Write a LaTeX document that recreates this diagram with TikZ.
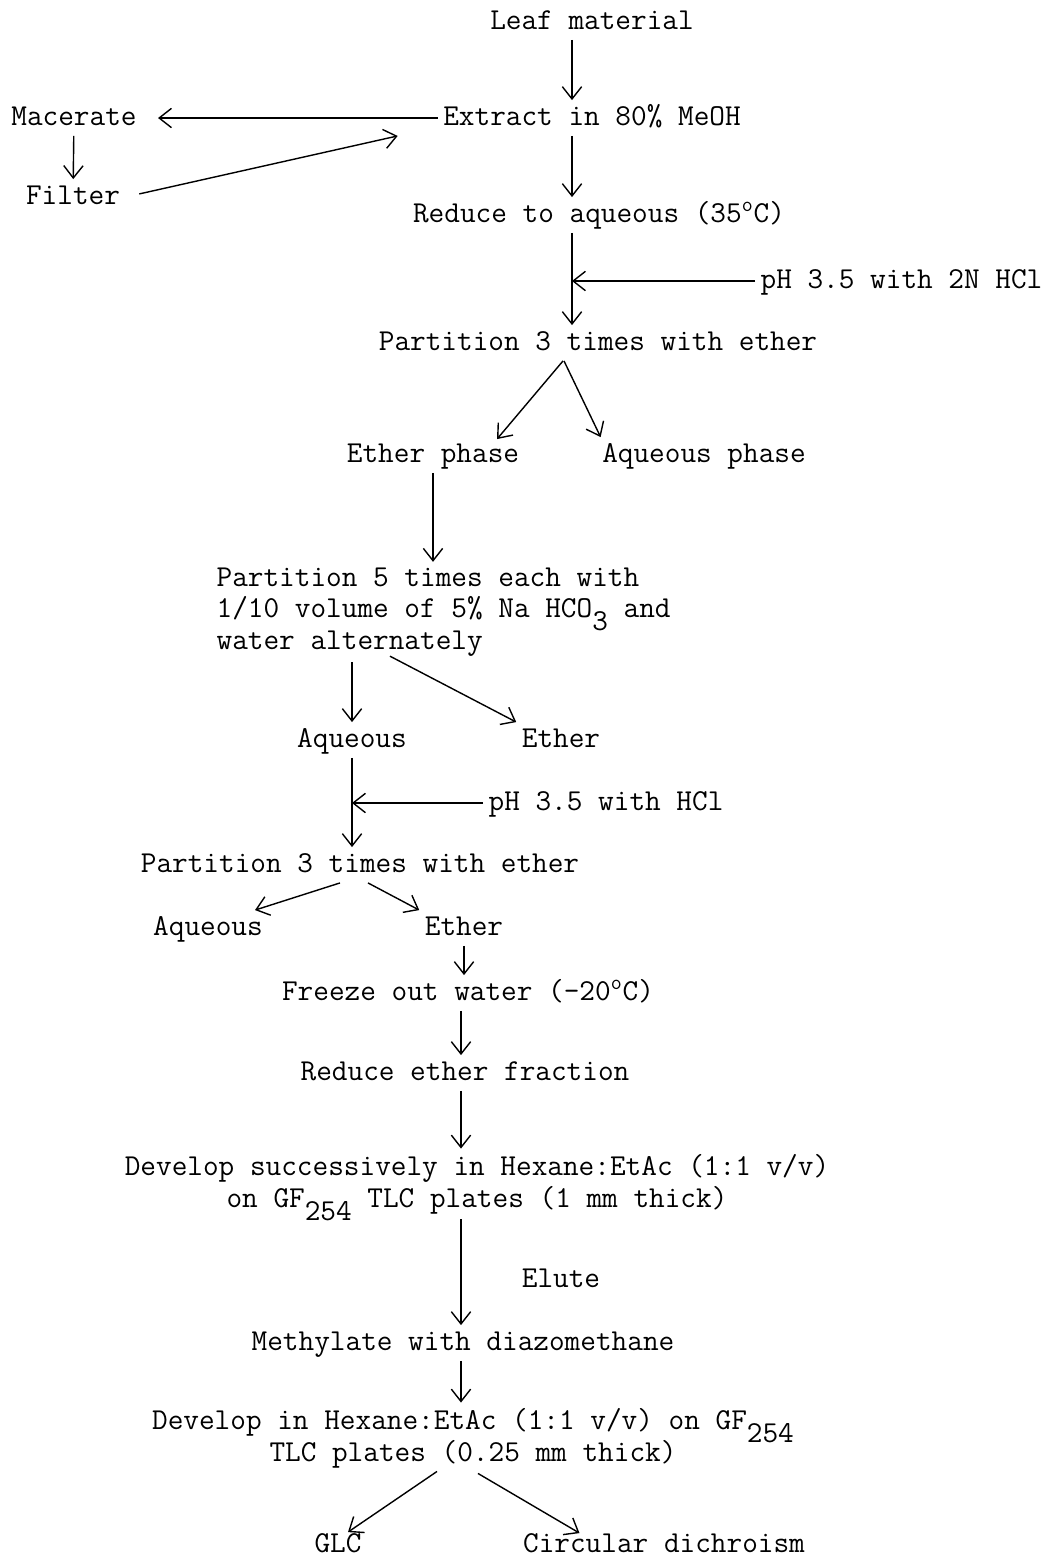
\documentclass[tikz,border=0pt]{standalone}
\usepackage{tikz}
\usetikzlibrary{arrows.meta, calc}

\newcommand{\flowfont}{\fontsize{17.3}{18.1}\selectfont\ttfamily}
\newcommand{\lowsub}[1]{\smash{\raisebox{-1ex}{#1}}}

\begin{document}
\begin{tikzpicture}[
	x=0.02cm, y=-0.02cm, % one unit = one pixel of the page, y running down
	>={Straight Barb[length=7pt,width=11pt]},
	% Style for the one-line steps
	stage/.style={
		font=\flowfont,
		inner sep=3pt,
		text height=11pt,
		text depth=3pt
	},
	% Style for the steps typed on several lines
	block/.style={
		font=\flowfont,
		inner sep=3pt
	},
	% Style for the arrows
	flow/.style={
		->,
		line width=0.8pt
	}
	]
	\useasboundingbox (0,0) rectangle (1050,1560);
	
	% --- COLUMNS OF THE MAIN LINE ---
	\coordinate (colA) at (572,0);
	\coordinate (colB) at (461,0);
	
	% --- NODES (STEPS) ---
	
	% Extraction
	\node[stage] (leaf) at (592,22) {Leaf material};
	\node[stage] (ext) at (592,118) {Extract in 80\% MeOH};
	\node[stage] (mac) at (74,118) {Macerate};
	\node[stage] (filt) at (73,197) {Filter};
	\node[stage] (red) at (599,215) {Reduce to aqueous (35\textsuperscript{o}C)};
	\node[stage, anchor=west] (ph1) at (755,281) {pH 3.5 with 2N HCl};
	
	% First partition
	\node[stage] (part3a) at (598,343) {Partition 3 times with ether};
	\node[stage] (ephase) at (433,455) {Ether phase};
	\node[stage] (aphase) at (704,455) {Aqueous phase};
	
	% Bicarbonate partition
	\node[block, anchor=west, align=left] (part5) at (211,612)
		{Partition 5 times each with\\1/10 volume of 5\% Na HCO\lowsub{3} and\\water alternately};
	\node[stage] (aq1) at (352,740) {Aqueous};
	\node[stage] (eth1) at (561,740) {Ether};
	\node[stage, anchor=west] (ph2) at (483,803) {pH 3.5 with HCl};
	
	% Second partition
	\node[stage] (part3b) at (360,865) {Partition 3 times with ether};
	\node[stage] (aq2) at (208,928) {Aqueous};
	\node[stage] (eth2) at (464,928) {Ether};
	\node[stage] (freeze) at (468,993) {Freeze out water (-20\textsuperscript{o}C)};
	\node[stage] (red2) at (465,1073) {Reduce ether fraction};
	
	% Thin layer chromatography
	\node[block, align=center] (dev1) at (477,1184)
		{Develop successively in Hexane:EtAc (1:1 v/v)\\on GF\lowsub{254} TLC plates (1 mm thick)};
	\node[stage] (elute) at (561,1280) {Elute};
	\node[stage] (meth) at (463,1343) {Methylate with diazomethane};
	\node[block, align=center] (dev2) at (473,1438)
		{Develop in Hexane:EtAc (1:1 v/v) on GF\lowsub{254}\\TLC plates (0.25 mm thick)};
	\node[stage] (glc) at (338,1545) {GLC};
	\node[stage] (circ) at (664,1545) {Circular dichroism};
	
	% --- EDGES (ARROWS) ---
	
	% Extraction loop
	\draw[flow] (leaf.south -| colA) -- (ext.north -| colA);
	\draw[flow, shorten >=9pt] (ext.west) -- (mac.east);
	\draw[flow] (mac) -- (filt);
	\draw[flow, shorten <=8pt] (filt.east) -- ($(ext.south west)+(-40,0)$);
	\draw[flow] (ext.south -| colA) -- (red.north -| colA);
	\draw[flow] (red.south -| colA) -- (part3a.north -| colA);
	\draw[flow] (ph1.west) -- (ph1.west -| colA);
	
	% Phases of the first partition
	\draw[flow] ($(part3a.south)+(-35,0)$) -- ($(ephase.north)+(64,2)$);
	\draw[flow] ($(part3a.south)+(-34,0)$) -- ($(aphase.north west)+(4,0)$);
	\draw[flow] (ephase.south) -- (ephase.south |- part5.north);
	
	% Phases of the bicarbonate partition
	\draw[flow] (aq1.north |- part5.south) -- (aq1.north);
	\draw[flow] ($(part5.south west)+(179,-6)$) -- (eth1.north west);
	\draw[flow] (aq1.south) -- (aq1.south |- part3b.north);
	\draw[flow] (ph2.west) -- (ph2.west -| aq1.south);
	
	% Phases of the second partition
	\draw[flow] ($(part3b.south)+(-20,0)$) -- ($(aq2.north)+(47,0)$);
	\draw[flow] ($(part3b.south)+(8,0)$) -- (eth2.north west);
	\draw[flow] (eth2.south) -- (eth2.south |- freeze.north);
	
	% Down to the plates
	\draw[flow] (freeze.south -| colB) -- (red2.north -| colB);
	\draw[flow] (red2.south -| colB) -- (dev1.north -| colB);
	\draw[flow] (dev1.south -| colB) -- (meth.north -| colB);
	\draw[flow] (meth.south -| colB) -- (dev2.north -| colB);
	
	% Final analyses
	\draw[flow] ($(dev2.south)+(-36,-2)$) -- ($(glc.north)+(10,5)$);
	\draw[flow] ($(dev2.south)+(5,0)$) -- ($(circ.north west)+(62,6)$);
	
\end{tikzpicture}
\end{document}
